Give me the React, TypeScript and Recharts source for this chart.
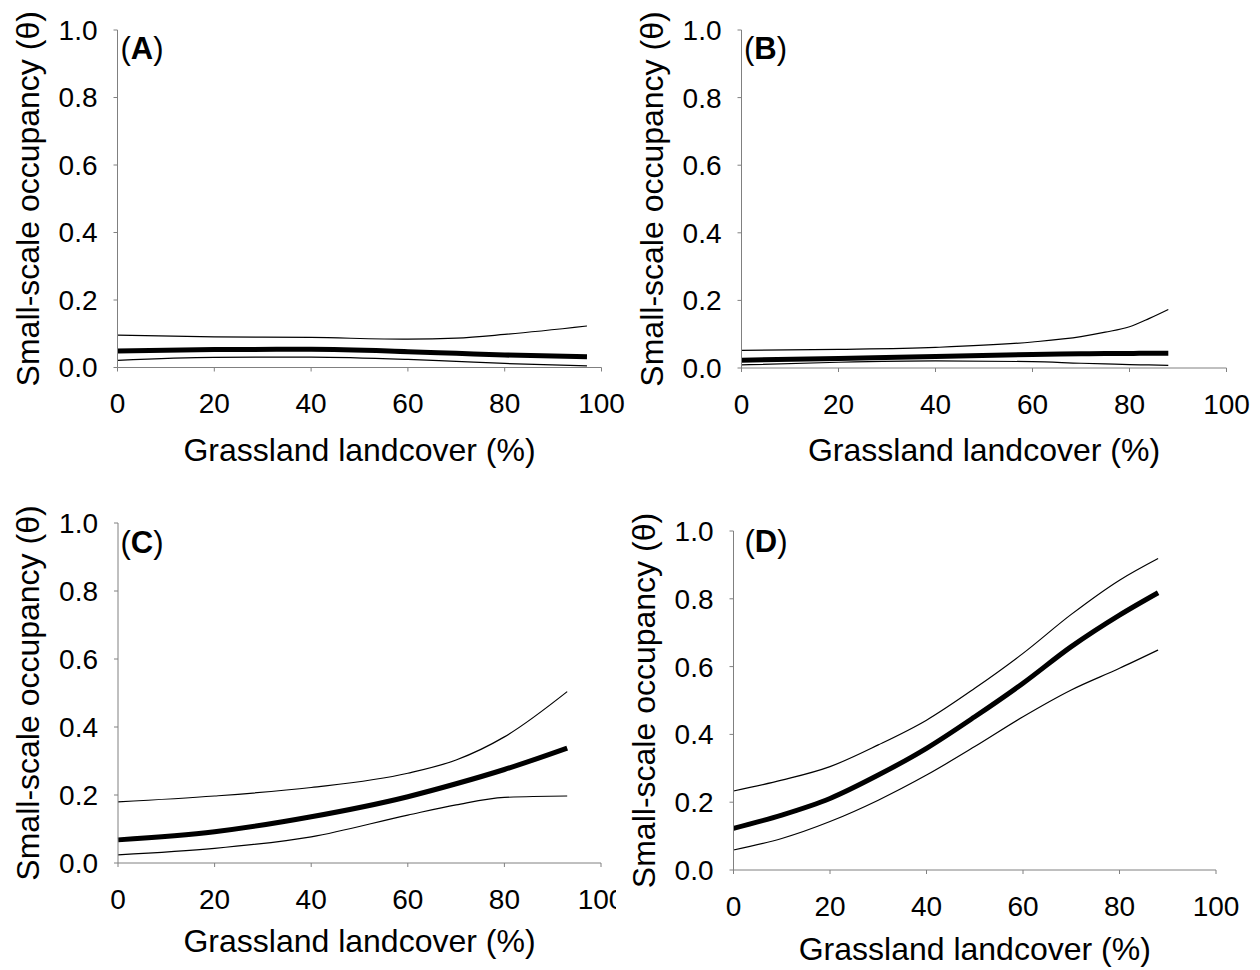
import { Label, Line, LineChart, XAxis, YAxis } from "recharts";

const xTicks = [0, 20, 40, 60, 80, 100];
const yTicks = [0, 0.2, 0.4, 0.6, 0.8, 1.0];

// (A)
const aX = [0, 20, 40, 60, 70, 80, 97];
const aEst = [0.049, 0.053, 0.054, 0.047, 0.042, 0.037, 0.032];
const aLo = [0.021, 0.03, 0.031, 0.024, 0.018, 0.012, 0.005];
const aHi = [0.096, 0.091, 0.089, 0.084, 0.087, 0.098, 0.123];

// (B)
const bX = [0, 20, 40, 60, 70, 75, 80, 84, 88];
const bEst = [0.023, 0.028, 0.034, 0.04, 0.042, 0.043, 0.043, 0.044, 0.044];
const bLo = [0.009, 0.017, 0.021, 0.019, 0.014, 0.012, 0.01, 0.009, 0.008];
const bHi = [0.052, 0.055, 0.061, 0.077, 0.093, 0.106, 0.122, 0.146, 0.173];

// (C)
const cX = [0, 20, 40, 60, 70, 80, 93];
const cEst = [0.068, 0.092, 0.136, 0.195, 0.233, 0.275, 0.338];
const cLo = [0.024, 0.043, 0.077, 0.141, 0.171, 0.193, 0.197];
const cHi = [0.18, 0.197, 0.222, 0.264, 0.303, 0.371, 0.504];

// (D)
const dX = [0, 10, 20, 30, 40, 50, 60, 70, 80, 88];
const dEst = [0.123, 0.162, 0.211, 0.28, 0.359, 0.452, 0.551, 0.659, 0.752, 0.818];
const dLo = [0.059, 0.093, 0.143, 0.206, 0.28, 0.364, 0.452, 0.531, 0.595, 0.649];
const dHi = [0.233, 0.265, 0.305, 0.369, 0.442, 0.536, 0.639, 0.754, 0.855, 0.919];

const FONT = '"Liberation Sans", Arial, Helvetica, sans-serif';
const AXIS = "#808080";

type Row = { x: number; est: number; lo: number; hi: number };

const toRows = (x: number[], est: number[], lo: number[], hi: number[]): Row[] =>
  x.map((v, i) => ({ x: v, est: est[i], lo: lo[i], hi: hi[i] }));

type PanelProps = {
  rows: Row[];
  left: number;
  top: number;
  width: number;
  height: number;
  marginTop: number;
  marginRight: number;
  yAxisWidth: number;
  xAxisHeight: number;
  titleOffset: number;
  bg?: string;
};

function Panel({
  rows,
  left,
  top,
  width,
  height,
  marginTop,
  marginRight,
  yAxisWidth,
  xAxisHeight,
  titleOffset,
  bg,
}: PanelProps) {
  return (
    <div style={{ position: "absolute", left, top, width, height, background: bg }}>
      <LineChart
        width={width}
        height={height}
        data={rows}
        margin={{ top: marginTop, right: marginRight, bottom: 0, left: 0 }}
      >
        <XAxis
          dataKey="x"
          type="number"
          domain={[0, 100]}
          ticks={xTicks}
          interval={0}
          stroke={AXIS}
          tickSize={4}
          tickMargin={22}
          height={xAxisHeight}
          tick={{ fill: "#000", fontSize: 28, fontFamily: FONT }}
        >
          <Label
            value="Grassland landcover (%)"
            position="insideBottom"
            offset={titleOffset}
            fill="#000"
            fontSize={32}
            fontFamily={FONT}
          />
        </XAxis>
        <YAxis
          type="number"
          domain={[0, 1]}
          ticks={yTicks}
          interval={0}
          stroke={AXIS}
          tickSize={4}
          tickMargin={16}
          width={yAxisWidth}
          tickFormatter={(v: number) => v.toFixed(1)}
          tick={{ fill: "#000", fontSize: 28, fontFamily: FONT }}
        >
          <Label
            value="Small-scale occupancy (θ)"
            angle={-90}
            position="insideLeft"
            offset={28}
            fill="#000"
            fontSize={32}
            fontFamily={FONT}
            style={{ textAnchor: "middle" }}
          />
        </YAxis>
        <Line dataKey="hi" type="monotone" stroke="#000" strokeWidth={1.2} dot={false} isAnimationActive={false} />
        <Line dataKey="lo" type="monotone" stroke="#000" strokeWidth={1.2} dot={false} isAnimationActive={false} />
        <Line dataKey="est" type="monotone" stroke="#000" strokeWidth={5} dot={false} isAnimationActive={false} />
      </LineChart>
    </div>
  );
}

const letters = [
  { t: "A", x: 120.5, y: 59 },
  { t: "B", x: 744, y: 59 },
  { t: "C", x: 120.5, y: 553 },
  { t: "D", x: 744.5, y: 552 },
];

export default function App() {
  return (
    <div
      style={{
        position: "absolute",
        left: 0,
        top: 0,
        width: 1260,
        height: 970,
        background: "#fff",
        fontFamily: FONT,
        overflow: "hidden",
      }}
    >
      <Panel
        rows={toRows(aX, aEst, aLo, aHi)}
        left={0}
        top={0}
        width={630}
        height={485}
        marginTop={30}
        marginRight={28.5}
        yAxisWidth={117.5}
        xAxisHeight={117.5}
        titleOffset={24}
      />
      <Panel
        rows={toRows(bX, bEst, bLo, bHi)}
        left={623.5}
        top={0}
        width={636.5}
        height={485}
        marginTop={30}
        marginRight={34}
        yAxisWidth={117.5}
        xAxisHeight={117}
        titleOffset={24}
      />
      <Panel
        rows={toRows(cX, cEst, cLo, cHi)}
        left={0}
        top={490}
        width={630}
        height={480}
        marginTop={33}
        marginRight={29}
        yAxisWidth={118}
        xAxisHeight={107}
        titleOffset={18}
      />
      <Panel
        rows={toRows(dX, dEst, dLo, dHi)}
        left={616}
        top={490}
        width={644}
        height={480}
        marginTop={41}
        marginRight={44}
        yAxisWidth={117.5}
        xAxisHeight={100}
        titleOffset={10}
        bg="#fff"
      />
      <svg
        width={1260}
        height={970}
        style={{ position: "absolute", left: 0, top: 0, pointerEvents: "none" }}
      >
        {letters.map((l) => (
          <text key={l.t} x={l.x} y={l.y} fontSize={31} fontFamily={FONT} fill="#000">
            (<tspan fontWeight="bold">{l.t}</tspan>)
          </text>
        ))}
      </svg>
    </div>
  );
}
